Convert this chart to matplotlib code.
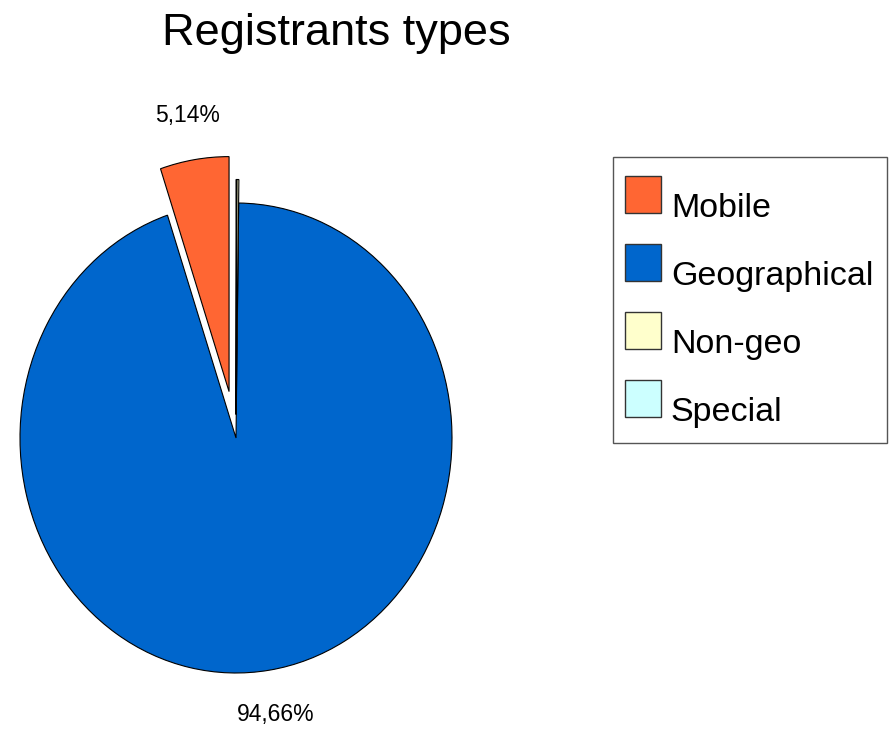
import matplotlib
matplotlib.use("Agg")
import matplotlib.pyplot as plt
from matplotlib.patches import Patch, Rectangle
from matplotlib.transforms import ScaledTranslation
import numpy as np

plt.rcParams['font.family'] = ['Liberation Sans', 'DejaVu Sans']

categories = ["Mobile", "Geographical", "Non-geo", "Special"]
values = [5.14, 94.66, 0.15, 0.05]
colors = ["#ff6633", "#0066cc", "#ffffcc", "#ccffff"]
explode = [0.2, 0.0, 0.1, 0.1]
title = "Registrants types"

W, H = 891, 733
fig = plt.figure(figsize=(W / 100, H / 100), dpi=100)
ax = fig.add_axes([0, 0, 1, 1])

cx, cy = 236, 295          # pie centre in pixels (from bottom-left)
rx, ry = 216, 235          # radius in pixels


def fmt(p):
    return (f"{p:.2f}%".replace('.', ',')) if p > 1 else ""


wedges, texts = ax.pie(values, colors=colors, explode=explode, startangle=90,
                       counterclock=True, labels=None,
                       wedgeprops=dict(edgecolor="black", linewidth=0.8),
                       frame=True)[:2]
ax.set_aspect('auto')
ax.set_xlim(-cx / rx, (W - cx) / rx)
ax.set_ylim(-cy / ry, (H - cy) / ry)
ax.axis('off')

for w, v, e in zip(wedges, values, explode):
    s = fmt(v / sum(values) * 100)
    if not s:
        continue
    ang = np.deg2rad((w.theta1 + w.theta2) / 2)
    d = 1.19 + e
    ax.text(d * np.cos(ang), d * np.sin(ang), s, ha='center', va='center',
            fontsize=16.5)

fig.text(336 / W, 1 - 33 / H, title, ha='center', va='center', fontsize=32.5)

# legend (contents) + separate frame
handles = [Patch(facecolor=c, edgecolor='#333333', linewidth=1) for c in colors]
leg = fig.legend(handles, categories, loc='upper left',
                 bbox_to_anchor=(613 / W, 1 - 164 / H), borderaxespad=0,
                 fontsize=24.5, frameon=False,
                 handlelength=1.04, handleheight=1.296, handletextpad=0.3,
                 labelspacing=0.91, borderpad=0.36)
shift = ScaledTranslation(0, -0.105, fig.dpi_scale_trans)
for t in leg.get_texts():
    t.set_transform(t.get_transform() + shift)

fig.add_artist(Rectangle((613 / W, 1 - 443 / H), 274 / W, 286 / H,
                         transform=fig.transFigure, fill=False,
                         edgecolor='#555555', linewidth=1))

fig.savefig("out.png", dpi=100)
